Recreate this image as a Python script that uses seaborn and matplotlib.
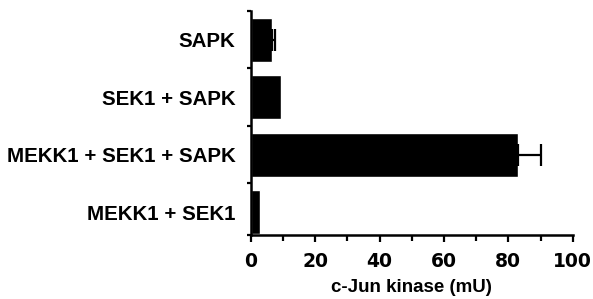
import matplotlib
matplotlib.use("Agg")
import matplotlib.pyplot as plt
import seaborn as sns
import pandas as pd
import numpy as np

categories = ["SAPK", "SEK1 + SAPK", "MEKK1 + SEK1 + SAPK", "MEKK1 + SEK1"]
values = [6.5, 9.5, 83.0, 3.0]
errors = [1.0, 0.0, 7.0, 0.0]
xticks = [0, 20, 40, 60, 80, 100]
xlabel = "c-Jun kinase (mU)"

sns.set_style("white")
plt.rcParams['font.family'] = ['Liberation Sans', 'DejaVu Sans']
plt.rcParams['font.weight'] = 'bold'
plt.rcParams['text.color'] = 'black'
plt.rcParams['axes.labelcolor'] = 'black'
plt.rcParams['xtick.color'] = 'black'
plt.rcParams['ytick.color'] = 'black'

df = pd.DataFrame({"cat": categories, "val": values})

fig = plt.figure(figsize=(5.93, 2.99), dpi=100)
ax = fig.add_axes([0.4228, 0.214, 0.543, 0.749])

sns.barplot(data=df, x="val", y="cat", color="black", orient="h",
            width=0.77, ax=ax, errorbar=None, saturation=1)

pos = np.arange(len(categories))
errs = np.array(errors)
mask = errs > 0
ax.errorbar(np.array(values)[mask], pos[mask],
            xerr=[np.zeros(mask.sum()), errs[mask]],
            fmt="none", ecolor="black", elinewidth=1.6, capsize=8, capthick=1.6)

ax.set_xlim(0, 100)
ax.set_ylim(3.4, -0.5)
ax.set_xticks(xticks)
ax.set_xticks([10, 30, 50, 70, 90], minor=True)
ax.set_xticklabels([str(t) for t in xticks], fontsize=13.5, fontweight='bold',
                   family=['DejaVu Sans'], color='black')
ax.set_yticks(pos)
ax.set_yticklabels(categories, fontsize=14.8, fontweight='bold', color='black')
ax.set_yticks([-0.5, 0.5, 1.5, 2.5, 3.4], minor=True)
ax.tick_params(axis='y', which='major', length=0, pad=11)
ax.tick_params(axis='y', which='minor', length=3, width=1.6, direction='out', left=True)
ax.tick_params(axis='x', which='both', direction='out', bottom=True, width=1.6, color='black')
ax.tick_params(axis='x', which='major', length=5, pad=7)
ax.tick_params(axis='x', which='minor', length=4)

ax.set_xlabel(xlabel, fontsize=13.5, fontweight='bold', labelpad=6, color='black')
ax.set_ylabel("")

for s in ["top", "right"]:
    ax.spines[s].set_visible(False)
for s in ["left", "bottom"]:
    ax.spines[s].set_visible(True)
    ax.spines[s].set_color("black")
    ax.spines[s].set_linewidth(1.8)

fig.savefig("out.png", dpi=100)
